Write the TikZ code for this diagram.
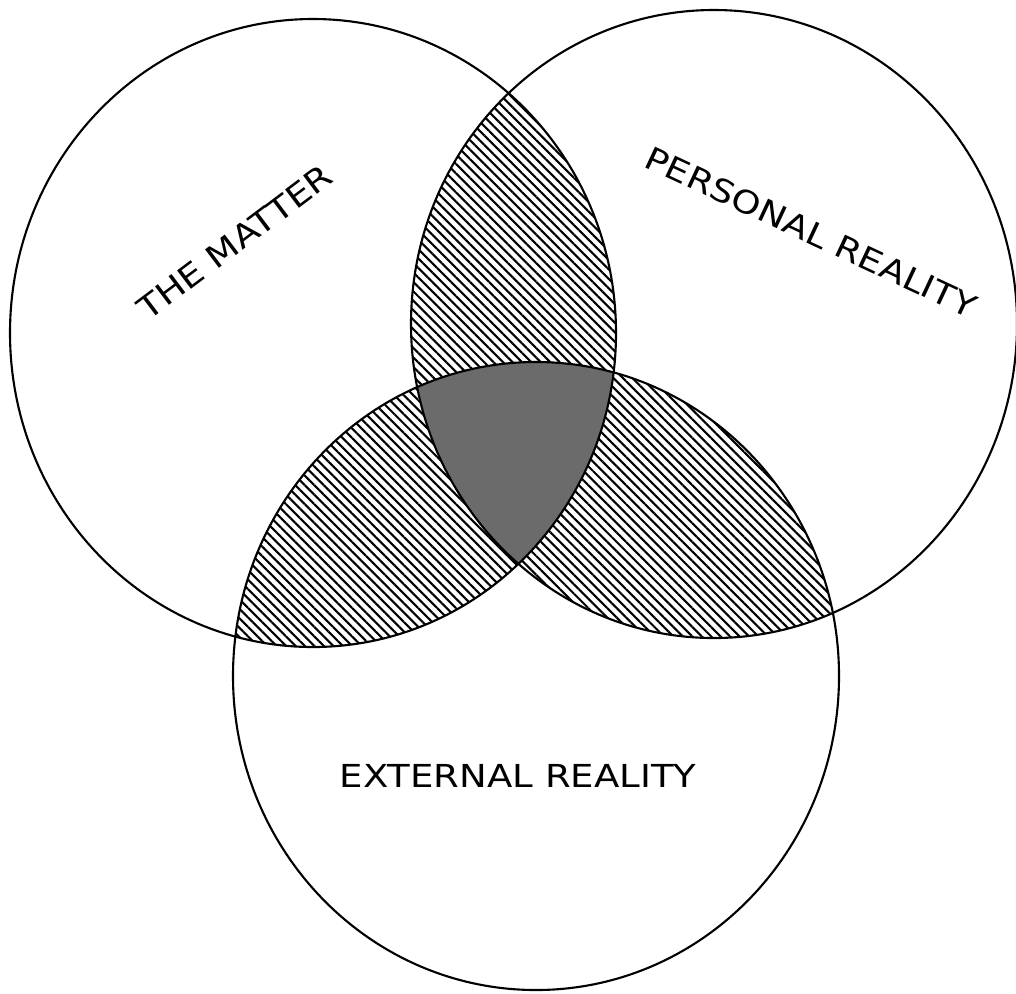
\documentclass[tikz,border=0pt]{standalone}
\usepackage{fontspec}
\newfontfamily\tagfont[FakeStretch=1.17]{DejaVu Sans}
\usetikzlibrary{patterns.meta}
\tikzset{
  ring/.style={draw,line width=0.6pt},
  hatch/.style={pattern={Lines[angle=-45,distance=1.9pt,line width=0.6pt]}},
  core/.style={fill=black!58},
  tag/.style={font=\tagfont\fontsize{9}{10}\selectfont,inner sep=0pt},
}
\begin{document}
\begin{tikzpicture}[x=0.01cm,y=-0.01cm]
        \fill[white] (0,0) rectangle (1016,993);
        \useasboundingbox (0,0) rectangle (1016,993);
        \coordinate (L) at (313,333);
        \coordinate (R) at (714,324);
        \coordinate (B) at (536,676);
        \foreach \p/\q in {L/R,L/B,R/B}{%
        \begin{scope}
            \clip (\p) ellipse [x radius=303,y radius=314];
            \fill[hatch] (\q) ellipse [x radius=303,y radius=314];
        \end{scope}
        }
        \begin{scope}
            \clip (L) ellipse [x radius=303,y radius=314];
            \clip (R) ellipse [x radius=303,y radius=314];
            \fill[core] (B) ellipse [x radius=303,y radius=314];
        \end{scope}
        \foreach \c in {L,R,B}
            \draw[ring] (\c) ellipse [x radius=303,y radius=314];
        \node[tag,rotate=37] (matter) at (235,242) {THE MATTER};
        \node[tag,rotate=-25] (personal) at (811,232) {PERSONAL REALITY};
        \node[tag] (external) at (518,776) {EXTERNAL REALITY};
    \end{tikzpicture}
\end{document}
